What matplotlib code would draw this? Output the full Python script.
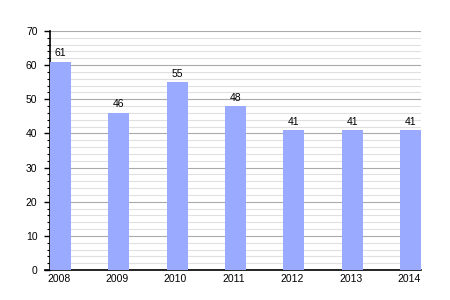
import numpy as np
import matplotlib
matplotlib.use("Agg")
import matplotlib.pyplot as plt
from matplotlib.ticker import MultipleLocator

years = ["2008", "2009", "2010", "2011", "2012", "2013", "2014"]
values = [61, 46, 55, 48, 41, 41, 41]

plt.rcParams["font.family"] = ["Liberation Sans", "DejaVu Sans"]

fig = plt.figure(figsize=(4.5, 3), dpi=100)
ax = fig.add_axes([0.111, 0.1, 0.825, 0.797])

w = 0.36
x = np.arange(len(years))
ax.bar(x, values, width=w, align="edge", color="#99aaff", zorder=3)

for xi, v in zip(x, values):
    ax.text(xi + w / 2, v + 1, str(v), ha="center", va="bottom", fontsize=7.5, zorder=4)

ax.set_xlim(0, len(years) - 1 + w)
ax.set_ylim(0, 70)
ax.set_xticks(x + w / 2 - 0.03)
ax.set_xticklabels(years)
ax.tick_params(axis="x", length=0, labelsize=7.5, pad=3)

ax.yaxis.set_major_locator(MultipleLocator(10))
ax.yaxis.set_minor_locator(MultipleLocator(2))
ax.tick_params(axis="y", which="major", length=4, width=1, labelsize=7.5, direction="out", pad=5)
ax.tick_params(axis="y", which="minor", length=2.2, width=0.8, direction="out")
ax.grid(axis="y", which="major", color="#aaaaaa", linewidth=0.8, zorder=0)
ax.grid(axis="y", which="minor", color="#e0e0e0", linewidth=0.8, zorder=0)

ax.spines["top"].set_visible(False)
ax.spines["right"].set_visible(False)
ax.spines["left"].set_linewidth(1.2)
ax.spines["bottom"].set_linewidth(1.2)
ax.spines["bottom"].set_bounds(-0.08, len(years) - 1 + w)
ax.spines["bottom"].set_clip_on(False)

fig.savefig("out.png", dpi=100)
